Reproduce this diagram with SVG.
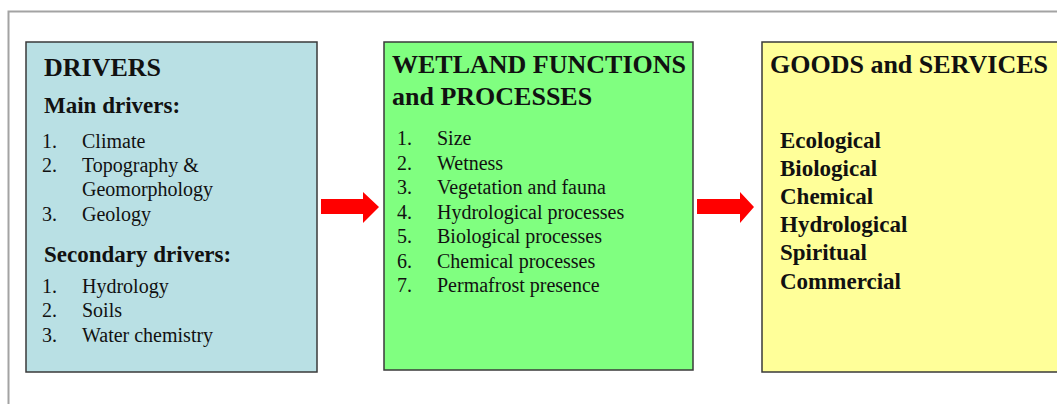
<svg xmlns="http://www.w3.org/2000/svg" width="1057" height="404" viewBox="0 0 1057 404">
<style>
.box{stroke:#3a3a3a;stroke-width:1.5}
.t{font-family:"Liberation Serif","Times New Roman",serif;fill:#111}
.h{font-size:26px;font-weight:bold}
.sub{font-size:23px;font-weight:bold}
.it{font-size:20px}
.gs{font-size:23px;font-weight:bold}
.arrow{fill:#ff0000}
</style>
<rect width="1057" height="404" fill="#ffffff"/>
<g id="frame">
<path d="M8.5 404 V11.5 H1057" fill="none" stroke="#a3a3a3" stroke-width="2"/>
</g>
<g id="drivers">
<rect class="box" x="26" y="42" width="291" height="330" fill="#b9e0e4"/>
<text class="t h" x="44" y="76">DRIVERS</text>
<text class="t sub" x="44" y="113">Main drivers:</text>
<text class="t it" x="42" y="148">1.</text><text class="t it" x="82" y="148">Climate</text>
<text class="t it" x="42" y="172">2.</text><text class="t it" x="82" y="172">Topography &amp;</text>
<text class="t it" x="82" y="196">Geomorphology</text>
<text class="t it" x="42" y="221">3.</text><text class="t it" x="82" y="221">Geology</text>
<text class="t sub" x="44" y="262">Secondary drivers:</text>
<text class="t it" x="42" y="293">1.</text><text class="t it" x="82" y="293">Hydrology</text>
<text class="t it" x="42" y="317">2.</text><text class="t it" x="82" y="317">Soils</text>
<text class="t it" x="42" y="342">3.</text><text class="t it" x="82" y="342">Water chemistry</text>
</g>
<g id="functions">
<rect class="box" x="384" y="42" width="309" height="328" fill="#80ff80"/>
<text class="t h" x="392" y="73">WETLAND FUNCTIONS</text>
<text class="t h" x="392" y="105">and PROCESSES</text>
<text class="t it" x="397" y="145">1.</text><text class="t it" x="437" y="145">Size</text>
<text class="t it" x="397" y="169.5">2.</text><text class="t it" x="437" y="169.5">Wetness</text>
<text class="t it" x="397" y="194">3.</text><text class="t it" x="437" y="194">Vegetation and fauna</text>
<text class="t it" x="397" y="218.5">4.</text><text class="t it" x="437" y="218.5">Hydrological processes</text>
<text class="t it" x="397" y="243">5.</text><text class="t it" x="437" y="243">Biological processes</text>
<text class="t it" x="397" y="267.5">6.</text><text class="t it" x="437" y="267.5">Chemical processes</text>
<text class="t it" x="397" y="292">7.</text><text class="t it" x="437" y="292">Permafrost presence</text>
</g>
<g id="goods">
<rect class="box" x="762" y="42" width="320" height="330" fill="#ffff99"/>
<text class="t h" x="770" y="73">GOODS and SERVICES</text>
<text class="t gs" x="780" y="148">Ecological</text>
<text class="t gs" x="780" y="176">Biological</text>
<text class="t gs" x="780" y="204">Chemical</text>
<text class="t gs" x="780" y="232">Hydrological</text>
<text class="t gs" x="780" y="260">Spiritual</text>
<text class="t gs" x="780" y="289">Commercial</text>
</g>
<g id="connectors">
<polygon class="arrow" points="321,199 363,199 363,192 379,207 363,223 363,214 321,214"/>
<polygon class="arrow" points="697,199 740,199 740,192 754,207 740,223 740,214 697,214"/>
</g>
</svg>
